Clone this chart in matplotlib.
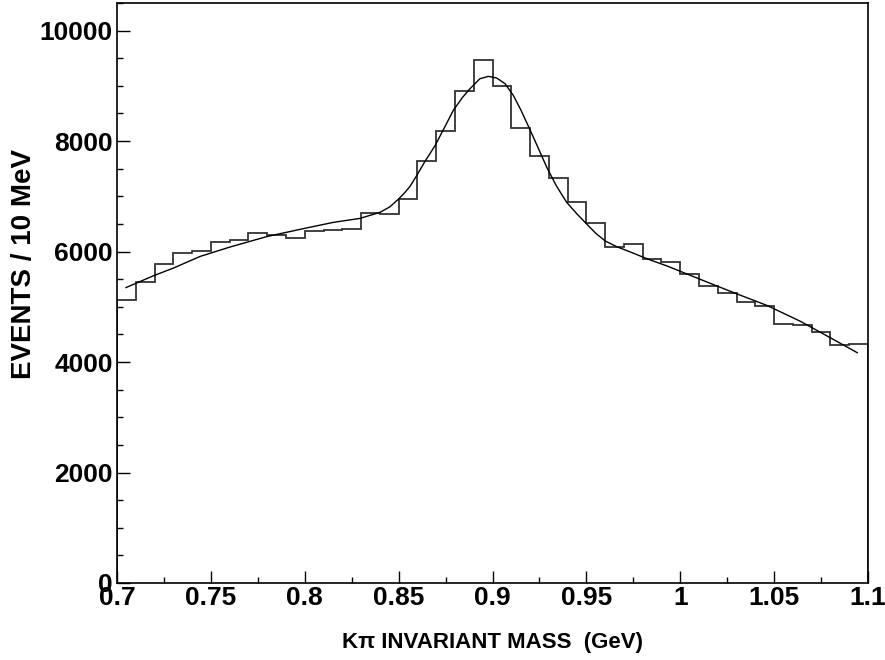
import numpy as np
import matplotlib
matplotlib.use('Agg')
import matplotlib.pyplot as plt
from matplotlib.ticker import MultipleLocator

plt.rcParams['font.family'] = ['Liberation Sans', 'DejaVu Sans']
plt.rcParams['font.weight'] = 'bold'

# histogram: 10 MeV bins from 0.70 to 1.10 GeV
bin_edges = np.round(np.arange(0.70, 1.1001, 0.01), 3)
counts = [5120, 5450, 5780, 5965, 6013, 6165, 6207, 6334, 6298, 6243,
          6365, 6388, 6406, 6691, 6679, 6960, 7646, 8185, 8899, 9474,
          9000, 8234, 7731, 7326, 6891, 6515, 6086, 6128, 5856, 5802,
          5590, 5384, 5245, 5082, 5021, 4695, 4670, 4550, 4314, 4320]

# fitted curve, sampled along its length
fit_mass = [0.7048, 0.7193, 0.7300, 0.7442, 0.7600, 0.7797, 0.8000, 0.8152,
            0.8294, 0.8401, 0.8454, 0.8500, 0.8534, 0.8561, 0.8596, 0.8640,
            0.8694, 0.8745, 0.8791, 0.8840, 0.8880, 0.8933, 0.8978, 0.9022,
            0.9067, 0.9111, 0.9150, 0.9191, 0.9240, 0.9289, 0.9340, 0.9395,
            0.9450, 0.9502, 0.9550, 0.9601, 0.9660, 0.9732, 0.9830, 0.9928,
            1.0105, 1.0283, 1.0460, 1.0637, 1.0815, 1.0943]
fit_events = [5348, 5560, 5700, 5911, 6080, 6270, 6420, 6528,
              6600, 6710, 6811, 6951, 7072, 7181, 7374, 7630,
              7918, 8250, 8554, 8790, 8947, 9129, 9171, 9142,
              9038, 8826, 8570, 8270, 7900, 7526, 7190, 6891,
              6680, 6497, 6330, 6190, 6090, 5995, 5860, 5741,
              5499, 5258, 5027, 4742, 4410, 4168]

fig = plt.figure(figsize=(8.85, 6.6), dpi=100)
ax = fig.add_axes([0.1322, 0.1167, 0.8486, 0.8788])

ax.stairs(counts, bin_edges, baseline=0, fill=False, color='#333333', lw=1.3)
ax.plot(fit_mass, fit_events, color='black', lw=1.0)

ax.set_xlim(0.7, 1.1)
ax.set_ylim(0, 10500)
ax.xaxis.set_minor_locator(MultipleLocator(0.025))
ax.yaxis.set_major_locator(MultipleLocator(2000))
ax.yaxis.set_minor_locator(MultipleLocator(500))
ax.set_xticks([0.7, 0.75, 0.8, 0.85, 0.9, 0.95, 1.0, 1.05, 1.1])
ax.set_xticklabels(['0.7', '0.75', '0.8', '0.85', '0.9', '0.95', '1', '1.05', '1.1'])

ax.tick_params(which='both', direction='in', top=False, right=False, labelsize=19)
ax.tick_params(which='major', length=9, width=1.0)
ax.tick_params(which='minor', length=4.5, width=1.0)
ax.tick_params(axis='x', pad=2)
ax.tick_params(axis='y', pad=3)
for s in ax.spines.values():
    s.set_linewidth(1.2)

ax.set_xlabel('K\u03c0 INVARIANT MASS  (GeV)', fontsize=16, fontweight='bold', labelpad=16)
ax.set_ylabel('EVENTS / 10 MeV', fontsize=20, fontweight='bold')
ax.yaxis.set_label_coords(-0.106, 0.55)

fig.savefig('out.png', dpi=100)
